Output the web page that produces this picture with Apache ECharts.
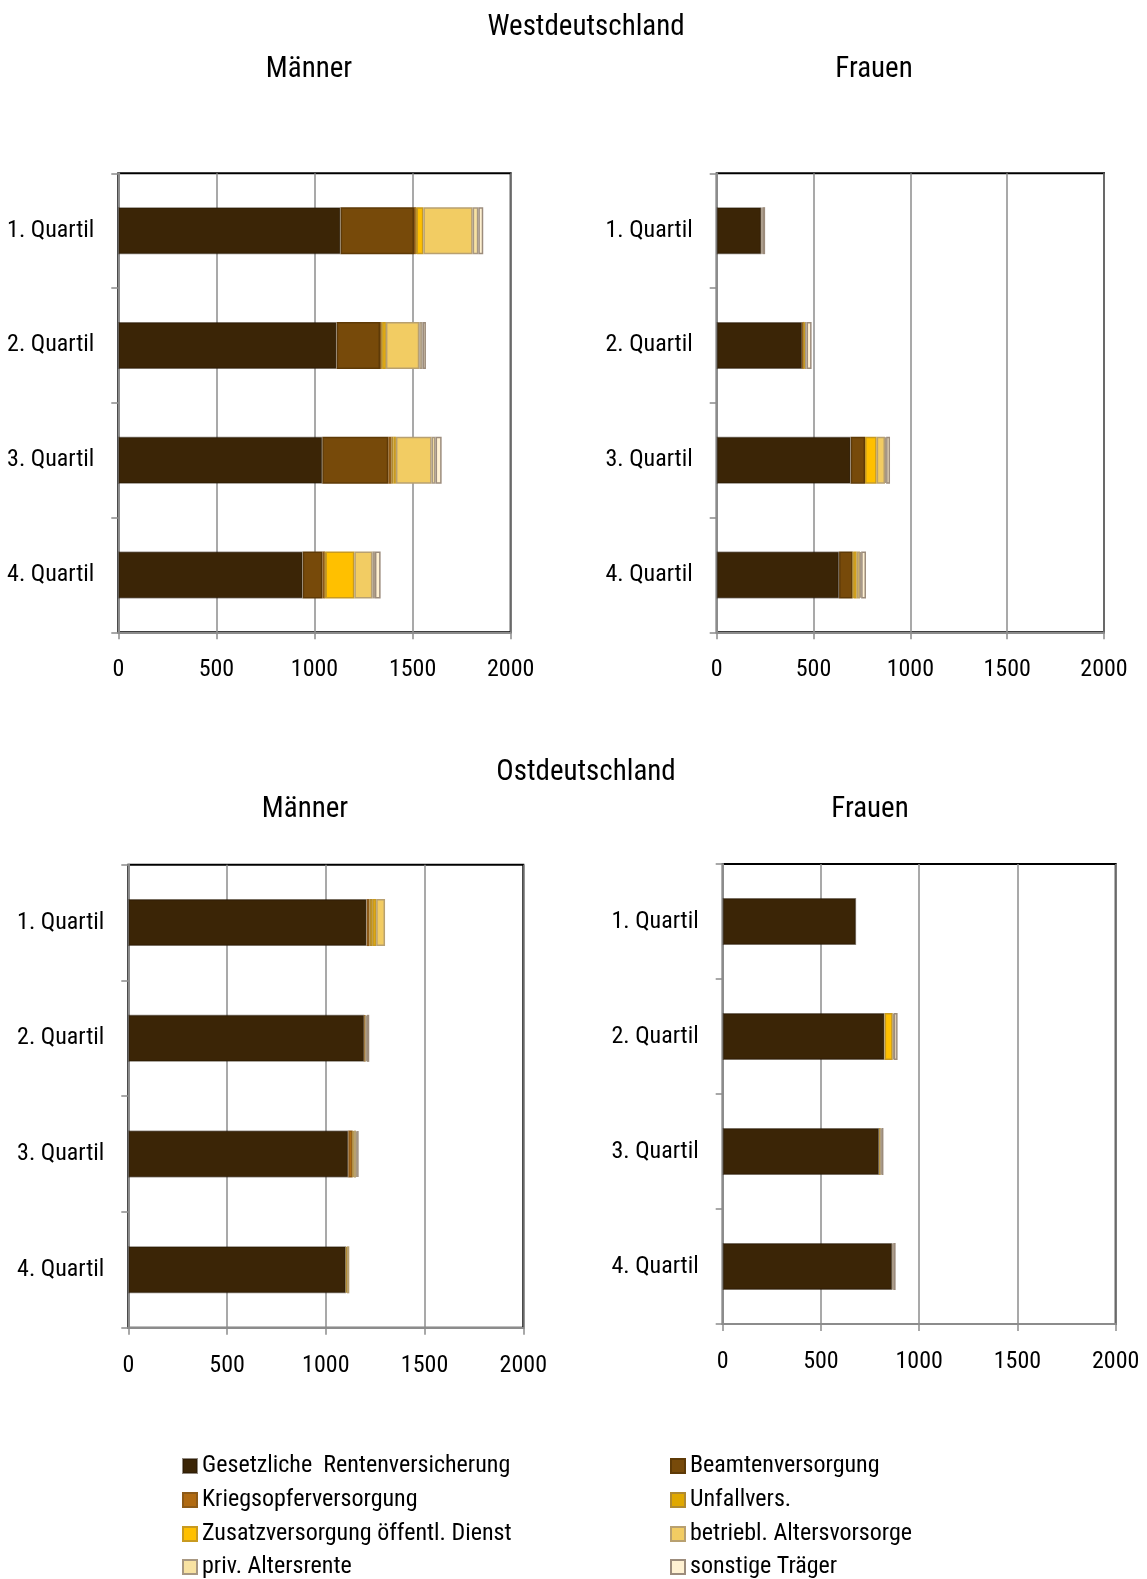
<!DOCTYPE html>
<html><head><meta charset="utf-8">
<script src="https://cdn.jsdelivr.net/npm/echarts@6/dist/echarts.min.js"></script>
<style>html,body{margin:0;padding:0;background:#fff}#c{width:1147px;height:1579px}</style>
</head><body><div id="c"></div>
<script>
const categories = ['1. Quartil', '2. Quartil', '3. Quartil', '4. Quartil'];
const seriesNames = ['Gesetzliche  Rentenversicherung', 'Beamtenversorgung', 'Kriegsopferversorgung', 'Unfallvers.',
  'Zusatzversorgung öffentl. Dienst', 'betriebl. Altersvorsorge', 'priv. Altersrente', 'sonstige Träger'];
const xTicks = [0, 500, 1000, 1500, 2000];
// rows: series in order of seriesNames; columns: quartiles 1..4
const westMaenner = [
  [1133, 1113, 1040, 940],
  [374, 221, 336, 100],
  [10, 8, 17, 13],
  [3, 3, 9, 3],
  [35, 19, 13, 147],
  [251, 170, 182, 92],
  [29, 17, 20, 13],
  [25, 17, 31, 29]
];
const westFrauen = [
  [231, 442, 692, 632],
  [0, 0, 74, 70],
  [0, 3, 0, 0],
  [0, 8, 0, 4],
  [0, 3, 60, 17],
  [0, 0, 43, 17],
  [5, 8, 6, 6],
  [14, 26, 20, 25]
];
const ostMaenner = [
  [1207, 1195, 1114, 1102],
  [0, 0, 0, 0],
  [14, 3, 22, 0],
  [17, 0, 5, 5],
  [17, 0, 0, 0],
  [45, 4, 12, 12],
  [0, 6, 7, 0],
  [0, 12, 5, 0]
];
const ostFrauen = [
  [679, 824, 796, 863],
  [0, 0, 0, 0],
  [0, 0, 0, 0],
  [0, 0, 8, 0],
  [0, 41, 0, 0],
  [0, 0, 0, 0],
  [0, 6, 4, 5],
  [0, 19, 10, 12]
];

const colors = ['#3b2506', '#774a0a', '#b06a12', '#e0a800', '#ffc000', '#f2cc63', '#f8e2a2', '#fff1d2'];
const borders = ['#24160380', '#5e3a07', '#8d5a18', '#b08a30', '#c89a20', '#b8a070', '#a89882', '#9c8c7c'];
const FONT = "'Liberation Sans Narrow', 'Arial Narrow', 'Roboto Condensed', 'DejaVu Sans Condensed', sans-serif";

const panels = [
  {data: westMaenner, left: 118.3, width: 392.4, top: 173.3, height: 459},
  {data: westFrauen, left: 716.7, width: 387.3, top: 173.3, height: 459},
  {data: ostMaenner, left: 128.3, width: 395, top: 864.7, height: 463},
  {data: ostFrauen, left: 722.7, width: 393, top: 864, height: 460}
];

const grids = [], xAxes = [], yAxes = [], series = [];
panels.forEach((p, i) => {
  grids.push({left: p.left, top: p.top, width: p.width, height: p.height, show: true,
    borderColor: '#000', borderWidth: 2, backgroundColor: 'transparent'});
  xAxes.push({type: 'value', gridIndex: i, min: 0, max: 2000, interval: 500,
    axisLine: {show: true, lineStyle: {color: '#8c8c8c', width: 2}},
    axisTick: {show: true, length: 7, lineStyle: {color: '#8c8c8c', width: 1.5}},
    splitLine: {show: true, lineStyle: {color: '#8c8c8c', width: 1.5}},
    axisLabel: {color: '#000', fontSize: 24, fontFamily: FONT, margin: 26,
      formatter: v => xTicks.includes(v) ? String(v) : ''}});
  yAxes.push({type: 'category', gridIndex: i, data: categories, inverse: true,
    axisLine: {show: true, lineStyle: {color: '#8c8c8c', width: 2}},
    axisTick: {show: true, length: 7, lineStyle: {color: '#8c8c8c', width: 1.5}},
    axisLabel: {color: '#000', fontSize: 24, fontFamily: FONT, margin: 24, padding: [5, 0, 0, 0]}});
  p.data.forEach((row, s) => {
    series.push({type: 'bar', name: seriesNames[s], xAxisIndex: i, yAxisIndex: i, stack: 'p' + i,
      barWidth: 47,
      data: row.map(v => v > 0 ? v : '-'),
      itemStyle: {color: colors[s], borderColor: borders[s], borderWidth: 1.5},
      emphasis: {disabled: true}});
  });
});

const legendPos = [
  [182, 1465], [670, 1465],
  [182, 1499], [670, 1499],
  [182, 1533], [670, 1533],
  [182, 1566], [670, 1566]
];
const legendOrder = [0, 1, 2, 3, 4, 5, 6, 7];
const legends = legendOrder.map((s, k) => ({
  orient: 'horizontal', left: legendPos[k][0], top: legendPos[k][1] - 11, padding: 0,
  itemWidth: 14, itemHeight: 14, icon: 'rect', selectedMode: false,
  textStyle: {fontSize: 24, fontFamily: FONT, color: '#000', lineHeight: 22},
  data: [seriesNames[s]]
}));

const titleStyle = {fontSize: 29, fontWeight: 'normal', fontFamily: FONT, color: '#000'};
const option = {
  animation: false,
  title: [
    {text: 'Westdeutschland', left: 581, top: 8, textAlign: 'center', textStyle: titleStyle},
    {text: 'Männer', left: 304, top: 50, textAlign: 'center', textStyle: titleStyle},
    {text: 'Frauen', left: 869, top: 50, textAlign: 'center', textStyle: titleStyle},
    {text: 'Ostdeutschland', left: 581, top: 753, textAlign: 'center', textStyle: titleStyle},
    {text: 'Männer', left: 300, top: 790, textAlign: 'center', textStyle: titleStyle},
    {text: 'Frauen', left: 865, top: 790, textAlign: 'center', textStyle: titleStyle}
  ],
  grid: grids, xAxis: xAxes, yAxis: yAxes, series: series,
  legend: legends
};
const chart = echarts.init(document.getElementById('c'), null, {renderer: 'canvas'});
chart.setOption(option);
</script></body></html>
